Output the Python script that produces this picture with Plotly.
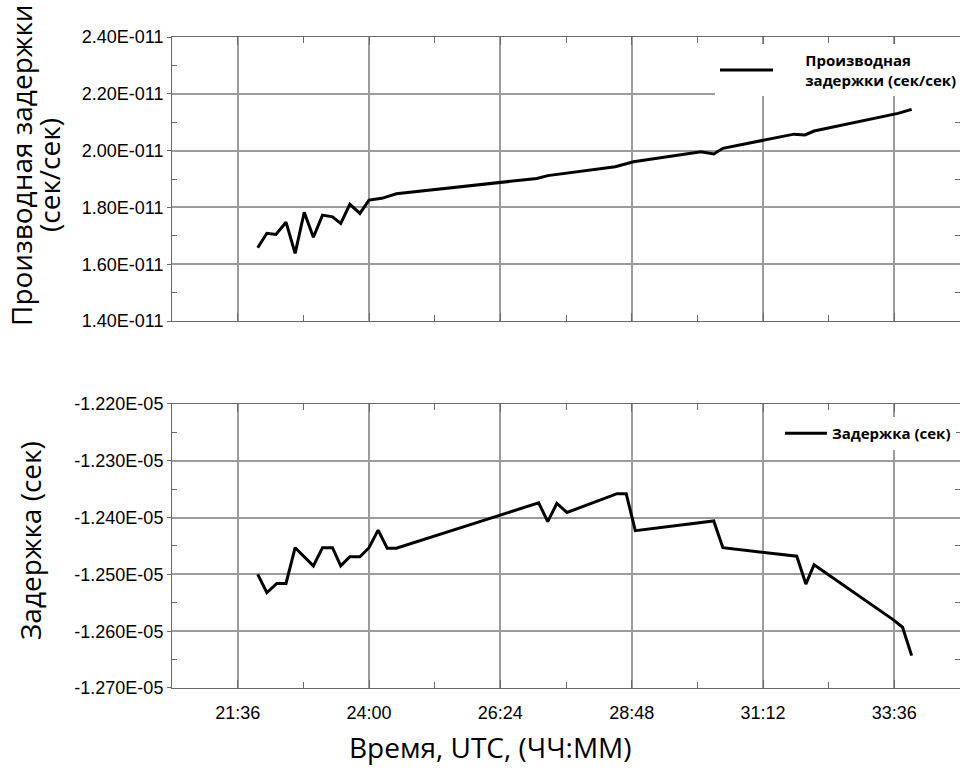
import plotly.graph_objects as go

# time in minutes (values beyond 24:00 continue counting, as in the source axis)
t_deriv = [1318, 1328, 1338, 1349, 1359, 1369, 1379, 1389, 1400, 1409, 1419, 1430, 1440,
           1454, 1470, 1624, 1636, 1710, 1730, 1804, 1818, 1828, 1906, 1918, 1928, 2020, 2035]
deriv_e11 = [1.658, 1.709, 1.705, 1.748, 1.638, 1.783, 1.695, 1.773, 1.767, 1.744, 1.811, 1.779,
             1.826, 1.832, 1.848, 1.902, 1.912, 1.943, 1.961, 1.996, 1.988, 2.008, 2.058, 2.055,
             2.069, 2.131, 2.145]

t_delay = [1318, 1328, 1339, 1349, 1359, 1379, 1389, 1400, 1409, 1419, 1430, 1440, 1450, 1460,
           1470, 1626, 1636, 1646, 1657, 1712, 1722, 1732, 1818, 1828, 1909, 1919, 1928, 2015,
           2025, 2035]
delay_e5 = [-1.2500, -1.2532, -1.2516, -1.2516, -1.2453, -1.2485, -1.2453, -1.2453, -1.2485,
            -1.2469, -1.2469, -1.2453, -1.2422, -1.2454, -1.2454, -1.2374, -1.2407, -1.2375,
            -1.2391, -1.2358, -1.2358, -1.2423, -1.2406, -1.2453, -1.2468, -1.2517, -1.2483,
            -1.2580, -1.2593, -1.2643]

x_tickvals = [1296, 1440, 1584, 1728, 1872, 2016]
x_ticktext = ["21:36", "24:00", "26:24", "28:48", "31:12", "33:36"]
x_minor = [1224, 1368, 1512, 1656, 1800, 1944, 2088]

y1_tickvals = [1.4e-11, 1.6e-11, 1.8e-11, 2.0e-11, 2.2e-11, 2.4e-11]
y1_ticktext = ["1.40E-011", "1.60E-011", "1.80E-011", "2.00E-011", "2.20E-011", "2.40E-011"]
y1_minor = [1.5e-11, 1.7e-11, 1.9e-11, 2.1e-11, 2.3e-11]

y2_tickvals = [-1.27e-5, -1.26e-5, -1.25e-5, -1.24e-5, -1.23e-5, -1.22e-5]
y2_ticktext = ["-1.270E-05", "-1.260E-05", "-1.250E-05", "-1.240E-05", "-1.230E-05", "-1.220E-05"]
y2_minor = [-1.265e-5, -1.255e-5, -1.245e-5, -1.235e-5, -1.225e-5]

deriv = [v * 1e-11 for v in deriv_e11]
delay = [v * 1e-5 for v in delay_e5]

NB = "\u00a0" * 7
fig = go.Figure()
fig.add_trace(go.Scatter(x=t_deriv, y=deriv, mode="lines",
                         name=NB + "Производная<br>" + NB + "задержки (сек/сек)",
                         line=dict(color="black", width=3), showlegend=True,
                         xaxis="x", yaxis="y", legend="legend"))
fig.add_trace(go.Scatter(x=t_delay, y=delay, mode="lines",
                         name="Задержка (сек)",
                         line=dict(color="black", width=3), showlegend=True,
                         xaxis="x2", yaxis="y2", legend="legend2"))

GRID = "#9c9c9c"
AX = "#6a6a6a"
tickfont = dict(family="Liberation Sans, Arial", size=18, color="black")
titlefont = dict(family="Open Sans", size=28, color="black")
legfont = dict(family="Open Sans", size=15, color="black", weight="bold")

xcommon = dict(range=[1224, 2088], tickmode="array", tickvals=x_tickvals,
               showgrid=True, gridcolor=GRID, gridwidth=1.5, zeroline=False,
               showline=True, linecolor=AX, linewidth=1, mirror="ticks",
               ticks="inside", ticklen=8, tickcolor=AX, automargin=False,
               minor=dict(tickmode="array", tickvals=x_minor, ticks="inside",
                          ticklen=6, tickcolor=AX, showgrid=False))

ycommon = dict(showgrid=True, gridcolor=GRID, gridwidth=1.5, zeroline=False,
               showline=True, linecolor=AX, linewidth=1, mirror="ticks",
               ticks="outside", ticklen=4, tickcolor=AX, tickfont=tickfont,
               tickmode="array", automargin=False)

H_PLOT = 651.0

def py(pix):
    return (688 - pix) / H_PLOT

def px(pix):
    return (pix - 172) / 788.0

fig.update_layout(
    width=960, height=770,
    margin=dict(l=172, r=0, t=37, b=82, autoexpand=False),
    paper_bgcolor="white", plot_bgcolor="white",
    xaxis=dict(**xcommon, domain=[0, 1], anchor="y", matches="x2", showticklabels=False),
    xaxis2=dict(**xcommon, domain=[0, 1], anchor="y2", ticktext=x_ticktext,
                tickfont=tickfont, ticklabelstandoff=8),
    yaxis=dict(**ycommon, domain=[0.5637, 1], anchor="x", range=[1.4e-11, 2.4e-11],
               tickvals=y1_tickvals, ticktext=y1_ticktext,
               minor=dict(tickmode="array", tickvals=y1_minor, ticks="inside",
                          ticklen=5, tickcolor=AX, showgrid=False)),
    yaxis2=dict(**ycommon, domain=[0, 0.4363], anchor="x2", range=[-1.27e-5, -1.22e-5],
                tickvals=y2_tickvals, ticktext=y2_ticktext,
                minor=dict(tickmode="array", tickvals=y2_minor, ticks="inside",
                           ticklen=5, tickcolor=AX, showgrid=False)),
    showlegend=True,
    legend=dict(x=px(715), y=py(44), xanchor="left", yanchor="top", bgcolor="white",
                font=legfont, itemwidth=53, valign="middle"),
    legend2=dict(x=px(780), y=py(417), xanchor="left", yanchor="top", bgcolor="white",
                 font=legfont, itemwidth=42, valign="middle"),
    annotations=[
        dict(text="Время, UTC, (ЧЧ:ММ)", xref="paper", yref="paper",
             x=px(490), y=py(747), xanchor="center", yanchor="middle",
             showarrow=False, font=titlefont),
        dict(text="Производная задержки", xref="paper", yref="paper",
             x=px(21), y=py(165), xanchor="center", yanchor="middle", textangle=-90,
             showarrow=False, font=titlefont),
        dict(text="(сек/сек)", xref="paper", yref="paper",
             x=px(49), y=py(175), xanchor="center", yanchor="middle", textangle=-90,
             showarrow=False, font=titlefont),
        dict(text="Задержка (сек)", xref="paper", yref="paper",
             x=px(30), y=py(541), xanchor="center", yanchor="middle", textangle=-90,
             showarrow=False, font=titlefont),
    ],
)

fig.write_html("out.html", config={"displayModeBar": False},
               post_script="document.body.style.margin='0';document.body.style.overflow='hidden';")
